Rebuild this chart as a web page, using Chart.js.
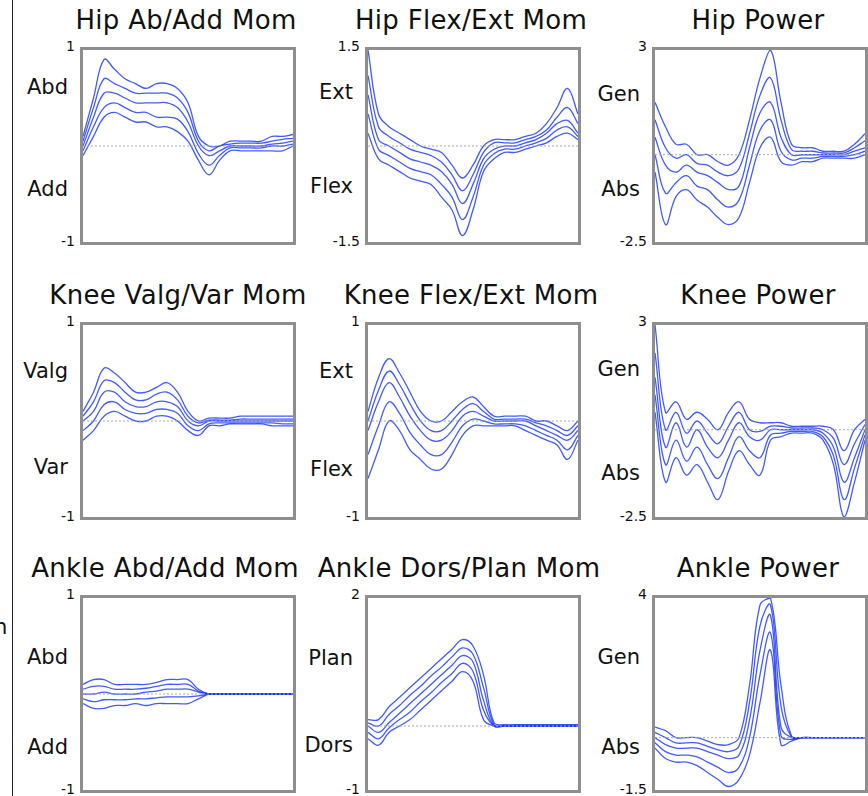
<!DOCTYPE html>
<html>
<head>
<meta charset="utf-8">
<script src="https://cdn.jsdelivr.net/npm/chart.js@4"></script>
<style>
  body { margin:0; background:#fff; width:868px; height:796px; overflow:hidden; position:relative; font-family:"DejaVu Sans", Verdana, sans-serif; }
  .box { position:absolute; width:210px; height:192px; border:3px solid #8e8e8e; }
  .box canvas { position:absolute; left:0; top:0; }
  .title { position:absolute; width:400px; text-align:center; font-size:26px; letter-spacing:0.3px; color:#111; white-space:nowrap; }
  .lab { position:absolute; text-align:right; color:#111; white-space:nowrap; }
  .tick { font-size:14px; }
  .cat { font-size:21px; }
</style>
</head>
<body>
<div style="position:absolute;left:12px;top:0;width:1px;height:796px;background:#222"></div>
<div class="lab cat" style="left:-6px;top:615px;">n</div>
<script>
// x positions (% of cycle)
const xs = [0,5,10,15,20,25,30,35,40,45,50,55,60,65,70,75,80,85,90,95,100];

const titles = ["Hip Ab/Add Mom","Hip Flex/Ext Mom","Hip Power",
  "Knee Valg/Var Mom","Knee Flex/Ext Mom","Knee Power",
  "Ankle Abd/Add Mom","Ankle Dors/Plan Mom","Ankle Power"];
const yMin = [-1,-1.5,-2.5, -1,-1,-2.5, -1,-1,-1.5];
const yMax = [1,1.5,3, 1,1,3, 1,2,4];
const yMinText = ["-1","-1.5","-2.5","-1","-1","-2.5","-1","-1","-1.5"];
const yMaxText = ["1","1.5","3","1","1","3","1","2","4"];
const upperNames = ["Abd","Ext","Gen","Valg","Ext","Gen","Abd","Plan","Gen"];
const lowerNames = ["Add","Flex","Abs","Var","Flex","Abs","Add","Dors","Abs"];

// curves per panel: upper, mid-upper, mean, mid-lower, lower
const hipAbAdd = [
  [0.1,0.5,0.9,0.8,0.7,0.65,0.6,0.65,0.65,0.6,0.45,0.1,0,0,0.05,0.05,0.05,0.05,0.1,0.1,0.12],
  [0.05,0.4,0.7,0.65,0.6,0.55,0.55,0.55,0.55,0.5,0.35,0.05,-0.05,0,0.02,0.03,0.03,0.03,0.05,0.07,0.08],
  [0,0.3,0.55,0.55,0.5,0.45,0.45,0.45,0.45,0.4,0.25,0,-0.1,-0.05,0,0,0,0,0.02,0.03,0.05],
  [-0.05,0.2,0.4,0.45,0.4,0.35,0.35,0.3,0.3,0.28,0.15,-0.08,-0.2,-0.1,-0.02,-0.02,-0.02,-0.02,0,0,0.02],
  [-0.1,0.1,0.3,0.35,0.3,0.25,0.25,0.2,0.2,0.15,0.05,-0.15,-0.3,-0.15,-0.05,-0.05,-0.05,-0.05,-0.05,-0.05,0]
];
const hipFlexExt = [
  [1.5,0.5,0.3,0.2,0.1,0,-0.05,-0.1,-0.3,-0.5,-0.3,0,0.1,0.1,0.1,0.15,0.2,0.35,0.6,0.9,0.5],
  [1.1,0.3,0.15,0.05,-0.05,-0.1,-0.15,-0.25,-0.45,-0.7,-0.45,-0.1,0.05,0.05,0.05,0.1,0.15,0.25,0.45,0.6,0.35],
  [0.8,0.1,0,-0.1,-0.2,-0.25,-0.3,-0.4,-0.6,-0.9,-0.6,-0.2,-0.05,0,0,0.05,0.1,0.2,0.35,0.4,0.2],
  [0.5,-0.05,-0.15,-0.25,-0.35,-0.4,-0.45,-0.6,-0.8,-1.15,-0.8,-0.3,-0.12,-0.05,-0.05,0,0.05,0.12,0.25,0.3,0.15],
  [0.2,-0.2,-0.3,-0.4,-0.5,-0.55,-0.6,-0.8,-1.0,-1.4,-1.0,-0.4,-0.2,-0.1,-0.1,-0.05,0,0.05,0.15,0.2,0.1]
];
const hipPower = [
  [1.5,0.8,0.3,0.3,0,0,-0.2,-0.3,0,1.0,2.2,3.0,1.5,0.3,0.2,0.2,0.1,0.1,0.1,0.3,0.6],
  [1.0,0.2,-0.1,0,-0.25,-0.3,-0.5,-0.6,-0.4,0.6,1.7,2.2,1.0,0.15,0.1,0.1,0.05,0.05,0.05,0.2,0.4],
  [0.5,-0.3,-0.5,-0.3,-0.5,-0.6,-0.8,-1.0,-0.9,0.2,1.2,1.5,0.5,0,0,0,0,0,0,0.1,0.2],
  [0,-1.1,-0.8,-0.6,-0.9,-1.0,-1.3,-1.5,-1.3,-0.3,0.7,1.0,0.1,-0.15,-0.1,-0.1,-0.05,-0.05,-0.05,0,0.1],
  [-0.5,-2.0,-1.2,-1.0,-1.3,-1.5,-1.8,-2.0,-1.8,-0.8,0.2,0.5,-0.2,-0.3,-0.2,-0.2,-0.1,-0.1,-0.1,-0.1,0]
];
const kneeValgVar = [
  [0.1,0.3,0.55,0.5,0.4,0.3,0.3,0.35,0.4,0.3,0.1,0,0.03,0.03,0.03,0.05,0.05,0.05,0.05,0.05,0.05],
  [0.05,0.2,0.42,0.4,0.3,0.22,0.22,0.28,0.3,0.22,0.05,-0.02,0.01,0.01,0.01,0.02,0.02,0.02,0.02,0.02,0.02],
  [0,0.1,0.3,0.3,0.2,0.15,0.15,0.2,0.2,0.15,0,-0.05,0,0,0,0,0,0,0,0,0],
  [-0.1,0,0.17,0.2,0.12,0.08,0.08,0.12,0.12,0.08,-0.05,-0.1,-0.03,-0.02,-0.02,-0.02,-0.02,-0.02,-0.02,-0.03,-0.03],
  [-0.2,-0.1,0.05,0.1,0.05,0,0,0.05,0.05,0,-0.1,-0.15,-0.05,-0.05,-0.03,-0.03,-0.03,-0.03,-0.05,-0.05,-0.05]
];
const kneeFlexExt = [
  [0.1,0.45,0.65,0.5,0.3,0.1,0,0,0.1,0.2,0.25,0.15,0.05,0.05,0.05,0.05,0,0,-0.05,-0.1,0],
  [0,0.32,0.52,0.38,0.18,0,-0.1,-0.1,0,0.12,0.18,0.1,0.02,0.02,0.02,0.02,-0.02,-0.05,-0.1,-0.15,-0.05],
  [-0.1,0.2,0.4,0.25,0.05,-0.1,-0.2,-0.2,-0.1,0.05,0.1,0.05,0,0,0,0,-0.05,-0.1,-0.15,-0.2,-0.1],
  [-0.35,-0.05,0.2,0.08,-0.12,-0.25,-0.35,-0.35,-0.22,-0.05,0.02,0,-0.03,-0.03,-0.03,-0.05,-0.1,-0.15,-0.2,-0.3,-0.15],
  [-0.6,-0.3,0,-0.1,-0.3,-0.4,-0.5,-0.5,-0.35,-0.15,-0.05,-0.05,-0.05,-0.05,-0.05,-0.1,-0.15,-0.2,-0.25,-0.4,-0.2]
];
const kneePower = [
  [3.0,0.5,0.8,0.3,0.5,0.3,0,0.5,0.8,0.3,0.2,0.2,0.2,0.1,0.1,0.1,0.1,0,-0.6,0,0.3],
  [2.2,0,0.5,-0.1,0.25,-0.1,-0.4,0.1,0.5,0,-0.05,0.1,0.1,0.05,0.05,0.05,0,-0.25,-1.0,-0.4,0.15],
  [1.5,-0.5,0.2,-0.5,0,-0.5,-0.8,-0.3,0.2,-0.2,-0.3,0,0,0,0,0,-0.1,-0.5,-1.5,-0.8,0],
  [1.0,-1.0,-0.3,-0.9,-0.5,-1.0,-1.4,-0.8,-0.2,-0.6,-0.8,-0.15,-0.1,-0.05,-0.05,-0.05,-0.2,-0.75,-2.0,-1.1,-0.15],
  [0.5,-1.5,-0.8,-1.3,-1.0,-1.5,-2.0,-1.2,-0.6,-1.0,-1.3,-0.3,-0.2,-0.1,-0.1,-0.1,-0.3,-1.0,-2.5,-1.5,-0.3]
];
const ankleAbdAdd = [
  [0.1,0.15,0.15,0.1,0.1,0.1,0.1,0.12,0.15,0.15,0.15,0.05,0,0,0,0,0,0,0,0,0],
  [0.05,0.08,0.08,0.05,0.05,0.05,0.06,0.08,0.1,0.1,0.1,0.03,0,0,0,0,0,0,0,0,0],
  [0,0,0.02,0,0,0,0.02,0.03,0.05,0.05,0.05,0.02,0,0,0,0,0,0,0,0,0],
  [-0.05,-0.08,-0.06,-0.06,-0.06,-0.05,-0.05,-0.04,-0.03,-0.03,-0.03,-0.02,0,0,0,0,0,0,0,0,0],
  [-0.1,-0.15,-0.15,-0.12,-0.12,-0.1,-0.12,-0.1,-0.1,-0.1,-0.1,-0.05,0,0,0,0,0,0,0,0,0]
];
const ankleDorsPlan = [
  [0.1,0.1,0.3,0.45,0.6,0.75,0.9,1.05,1.2,1.35,1.25,0.8,0.05,0.02,0.02,0.02,0.02,0.02,0.02,0.02,0.02],
  [0.05,0,0.18,0.32,0.48,0.62,0.78,0.92,1.08,1.22,1.12,0.6,0.02,0.01,0.01,0.01,0.01,0.01,0.01,0.01,0.01],
  [0,-0.1,0.05,0.2,0.35,0.5,0.65,0.8,0.95,1.1,1.0,0.4,0,0,0,0,0,0,0,0,0],
  [-0.1,-0.2,-0.03,0.1,0.22,0.38,0.52,0.68,0.82,0.98,0.85,0.25,0,0,0,0,0,0,0,0,0],
  [-0.2,-0.3,-0.1,0,0.1,0.25,0.4,0.55,0.7,0.85,0.7,0.1,0,0,0,0,0,0,0,0,0]
];
const anklePower = [
  [0.3,0.2,0,0,0,-0.1,-0.2,-0.2,0,1.5,3.8,4.0,1.5,0.05,0,0,0,0,0,0,0],
  [0.15,0,-0.15,-0.15,-0.15,-0.25,-0.35,-0.4,-0.25,1.0,3.2,3.8,0.9,0.02,0,0,0,0,0,0,0],
  [0,-0.2,-0.3,-0.3,-0.3,-0.4,-0.5,-0.6,-0.5,0.5,2.5,3.5,0.3,0,0,0,0,0,0,0,0],
  [-0.15,-0.4,-0.5,-0.5,-0.55,-0.7,-0.85,-1.0,-0.85,0,1.8,3.0,0.05,-0.05,0,0,0,0,0,0,0],
  [-0.3,-0.6,-0.7,-0.7,-0.8,-1.0,-1.2,-1.4,-1.2,-0.5,1.0,2.5,-0.2,-0.1,0,0,0,0,0,0,0]
];
const panels = [hipAbAdd,hipFlexExt,hipPower,kneeValgVar,kneeFlexExt,kneePower,ankleAbdAdd,ankleDorsPlan,anklePower];

// layout
const colLeft = [80,365,652];
const rowTop = [47,322,595];
const titleShift = [0,0,0, -8,0,0, -21,-12,0];
const upperOff = [41,46,48, 50,50,48, 63,64,63];
const lowerOff = [143,140,143, 146,148,152, 153,151,153];

panels.forEach((curves, i) => {
  const left = colLeft[i % 3], top = rowTop[Math.floor(i / 3)];
  const box = document.createElement('div');
  box.className = 'box';
  box.style.left = left + 'px'; box.style.top = top + 'px';
  const cv = document.createElement('canvas');
  cv.width = 210; cv.height = 192;
  cv.style.width = '210px'; cv.style.height = '192px';
  box.appendChild(cv);
  document.body.appendChild(box);

  const t = document.createElement('div');
  t.className = 'title'; t.textContent = titles[i];
  t.style.left = (left + 106 - 200 + titleShift[i]) + 'px'; t.style.top = (top - 42) + 'px';
  document.body.appendChild(t);

  const addLab = (txt, cls, y) => {
    const d = document.createElement('div');
    d.className = 'lab ' + cls; d.textContent = txt;
    d.style.right = (868 - left + (cls === 'tick' ? 5 : 12)) + 'px';
    d.style.top = y + 'px';
    document.body.appendChild(d);
  };
  addLab(yMaxText[i], 'tick', top - 9);
  addLab(yMinText[i], 'tick', top + 186);
  addLab(upperNames[i], 'cat', upperOff[i] + top - 13);
  addLab(lowerNames[i], 'cat', lowerOff[i] + top - 13);

  const datasets = curves.map(c => ({
    data: c, borderColor: 'rgba(20,50,250,0.8)', borderWidth: 1.3,
    pointRadius: 0, tension: 0.4, fill: false
  }));
  datasets.unshift({
    data: xs.map(() => 0), borderColor: '#aaa', borderWidth: 1,
    borderDash: [2, 2], pointRadius: 0
  });

  new Chart(cv, {
    type: 'line',
    data: { labels: xs, datasets },
    options: {
      responsive: false, animation: false,
      layout: { padding: 0 },
      plugins: { legend: { display: false }, tooltip: { enabled: false } },
      scales: {
        x: { display: false },
        y: { display: false, min: yMin[i], max: yMax[i] }
      }
    }
  });
});
</script>
</body>
</html>
